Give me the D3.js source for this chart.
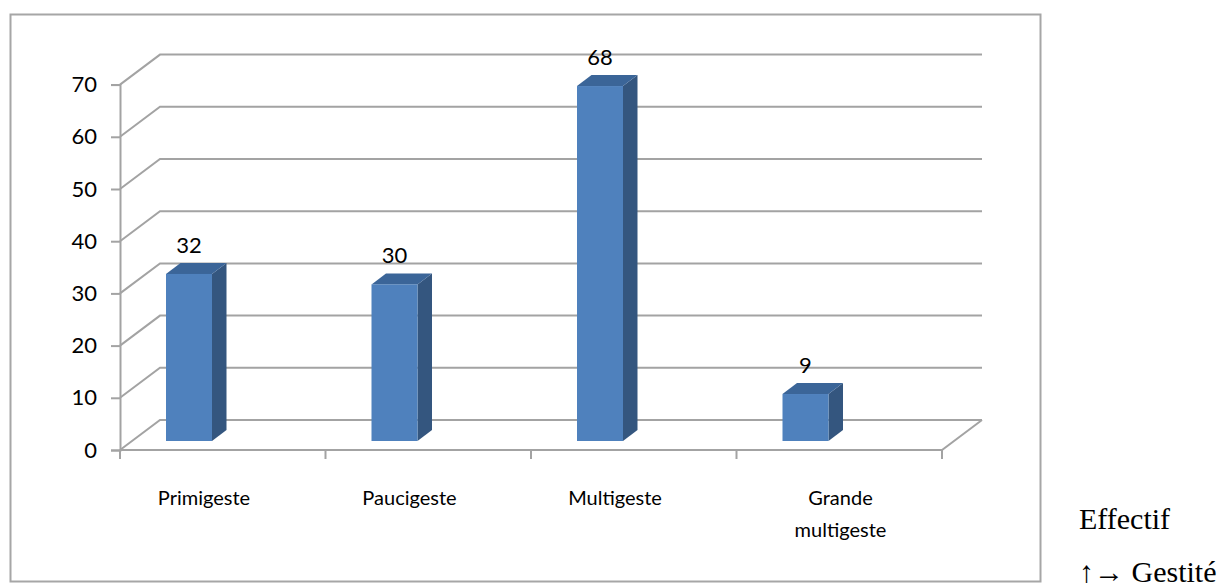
<!DOCTYPE html>
<html><head><meta charset="utf-8">
<script src="https://cdn.jsdelivr.net/npm/d3@7"></script>
<style>body{margin:0;background:#fff} svg{display:block}</style>
</head><body>
<script>
// Répartition des patientes selon la gestité
const categories = ["Primigeste", "Paucigeste", "Multigeste", "Grande multigeste"];
const effectifs = [32, 30, 68, 9];
const yTicks = [0, 10, 20, 30, 40, 50, 60, 70];
const sideNotes = ["Effectif", "\u2191\u2192 Gestit\u00e9"];

const W = 1228, H = 587;
const svg = d3.select("body").append("svg").attr("width", W).attr("height", H);

const uiFont = "Lato, 'Open Sans', sans-serif";
const gridColor = "#a3a3a3";

// chart frame
svg.append("rect").attr("x", 10.5).attr("y", 14.5).attr("width", 1030).attr("height", 567)
  .attr("fill", "#fff").attr("stroke", "#a6a6a6").attr("stroke-width", 2);

// 3D box geometry: offset of the back wall relative to the front plane
const depth = { dx: 40, dy: -30 };
const x = d3.scaleBand().domain(categories).range([120, 942]);
const y = d3.scaleLinear().domain([0, 70]).range([450, 84.6]);

const g = svg.append("g");

// back wall gridlines with their diagonal on the left side wall
yTicks.forEach(v => {
  const yf = y(v), yb = y(v) + depth.dy;
  g.append("path")
    .attr("d", `M${x.range()[0]},${yf}L${x.range()[0] + depth.dx},${yb}L${x.range()[1] + depth.dx},${yb}`)
    .attr("fill", "none").attr("stroke", gridColor).attr("stroke-width", 2);
});
// floor front edge and right diagonal
g.append("path")
  .attr("d", `M${x.range()[0]},${y(0)}L${x.range()[1]},${y(0)}L${x.range()[1] + depth.dx},${y(0) + depth.dy}`)
  .attr("fill", "none").attr("stroke", gridColor).attr("stroke-width", 2);

// value axis
const yAxis = d3.axisLeft(y).tickValues(yTicks).tickSize(9).tickPadding(14).tickFormat(d3.format("d"));
const ya = svg.append("g").attr("transform", `translate(${x.range()[0]},0)`).call(yAxis);
ya.select(".domain").attr("stroke", gridColor).attr("stroke-width", 2);
ya.selectAll(".tick line").attr("stroke", gridColor).attr("stroke-width", 2);
ya.selectAll(".tick text").attr("fill", "#000").style("font-family", uiFont).style("font-size", "22px");

// category axis ticks on the floor edge
const bounds = categories.map(c => x(c)).concat([x.range()[1]]);
svg.append("g").selectAll("line").data(bounds).join("line")
  .attr("x1", d => d).attr("x2", d => d).attr("y1", y(0)).attr("y2", y(0) + 9)
  .attr("stroke", gridColor).attr("stroke-width", 2);

// bars: front face sits part way into the depth of the box
const barFront = { dx: 0, dy: -9 };
const barDepth = { dx: 14.5, dy: -11 };
const barOffset = 46, barW = 46;

const bars = svg.append("g").selectAll("g").data(categories.map((c, i) => ({ c, v: effectifs[i] }))).join("g");
bars.each(function (d) {
  const sel = d3.select(this);
  const x0 = x(d.c) + barOffset, x1 = x0 + barW;
  const yb = y(0) + barFront.dy, yt = y(d.v) + barFront.dy;
  const ddx = barDepth.dx, ddy = barDepth.dy;
  // right side
  sel.append("path")
    .attr("d", `M${x1},${yb}L${x1 + ddx},${yb + ddy}L${x1 + ddx},${yt + ddy}L${x1},${yt}Z`)
    .attr("fill", "#34567f");
  // top
  sel.append("path")
    .attr("d", `M${x0},${yt}L${x0 + ddx},${yt + ddy}L${x1 + ddx},${yt + ddy}L${x1},${yt}Z`)
    .attr("fill", "#3b6598");
  // front
  sel.append("rect").attr("x", x0).attr("y", yt).attr("width", barW).attr("height", yb - yt)
    .attr("fill", "#4f81bd");
  // value label
  sel.append("text").attr("x", x0 + barW / 2).attr("y", yt - 21)
    .attr("text-anchor", "middle").style("font-family", uiFont).style("font-size", "22px")
    .text(d.v);
});

// category labels, wrapped on two lines when too wide
const labels = svg.append("g").selectAll("text").data(categories).join("text")
  .attr("x", d => x(d) + 84).attr("y", 505)
  .attr("text-anchor", "middle").style("font-family", uiFont).style("font-size", "20px");
labels.each(function (d) {
  const t = d3.select(this);
  const words = d.split(" ");
  if (words.length > 1 && d.length > 12) {
    words.forEach((w, i) => t.append("tspan").attr("x", x(d) + 84 + 20).attr("dy", i ? 32 : 0).text(w));
  } else t.text(d);
});

// notes beside the frame
svg.append("g").selectAll("text").data(sideNotes).join("text")
  .attr("x", 1079).attr("y", (d, i) => 529 + i * 53)
  .style("font-family", "'Liberation Serif', 'Times New Roman', serif").style("font-size", "30px")
  .text(d => d);
</script>
</body></html>
